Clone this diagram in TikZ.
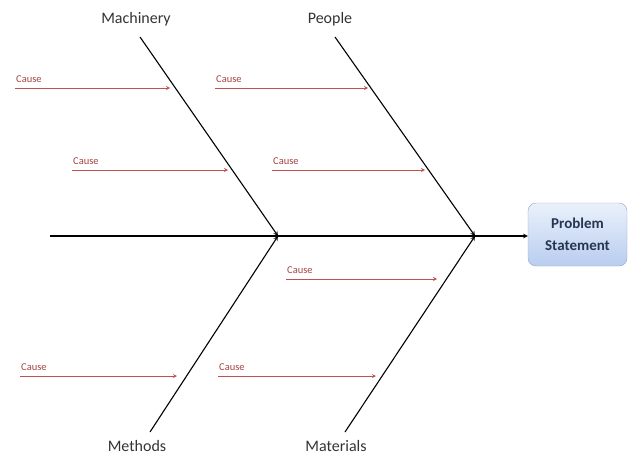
\documentclass[tikz,border=0pt]{standalone}
\usepackage{fontspec}
\setmainfont{Carlito}
\usetikzlibrary{positioning,calc,arrows}
\definecolor{causered}{HTML}{C0504D}
\definecolor{boxtop}{HTML}{EAF1FB}
\definecolor{boxbot}{HTML}{B9CDEF}
\definecolor{boxline}{HTML}{8EA6CF}
\definecolor{boxtext}{HTML}{243650}

\begin{document}
\begin{tikzpicture}[
    x=1pt, y=-1pt,
    bone/.style={draw=black, line width=1.1pt, -stealth},
    cause/.style={draw=causered, line width=0.8pt, -stealth},
    causetxt/.style={anchor=south west, inner sep=1pt, text=causered!85!black,
      font=\fontsize{10.5}{12}\selectfont},
    bonetxt/.style={anchor=center, text=black!80, font=\fontsize{16}{18}\selectfont},
    problem/.style={draw=boxline, rounded corners=8pt,
      top color=boxtop, bottom color=boxbot,
      align=center, text=boxtext,
      font=\bfseries\fontsize{15}{22}\selectfont,
      minimum width=99pt, minimum height=63pt}]
    \useasboundingbox (0,0) rectangle (629,460);

    % spine and head
    \node[problem] (P) at (577.5,234.5) {Problem\\Statement};
    \coordinate (tail) at (50,236);
    \coordinate (hM) at (278,236);
    \coordinate (hP) at (475,236);
    \draw[line width=1.1pt] (tail) -- (hM) -- (hP);
    \draw[bone] (hP) -- (P.west |- hP);

    % bones
    \node[bonetxt] (mach) at (136,19) {Machinery};
    \node[bonetxt] (peop) at (330,19) {People};
    \node[bonetxt] (meth) at (137,446) {Methods};
    \node[bonetxt] (mate) at (336,446) {Materials};
    \coordinate (mT) at (140,37);
    \coordinate (pT) at (335,37);
    \coordinate (tT) at (150,432);
    \coordinate (aT) at (345,432);
    \draw[bone] (mT) -- (hM);
    \draw[bone] (tT) -- (hM);
    \draw[bone] (pT) -- (hP);
    \draw[bone] (aT) -- (hP);

    % causes
    \foreach \n/\x/\y/\e in {1/15/88/170, 2/72/170/228, 3/215/88/368,
                            4/272/170/425, 5/286/279/437, 6/20/376/177,
                            7/218/376/376}{
      \coordinate (c\n) at (\x,\y);
      \coordinate (e\n) at (\e,\y);
      \node[causetxt] (t\n) at ($(c\n)+(0,-4)$) {Cause};
      \draw[cause] (c\n) -- (e\n);
    }
\end{tikzpicture}
\end{document}
